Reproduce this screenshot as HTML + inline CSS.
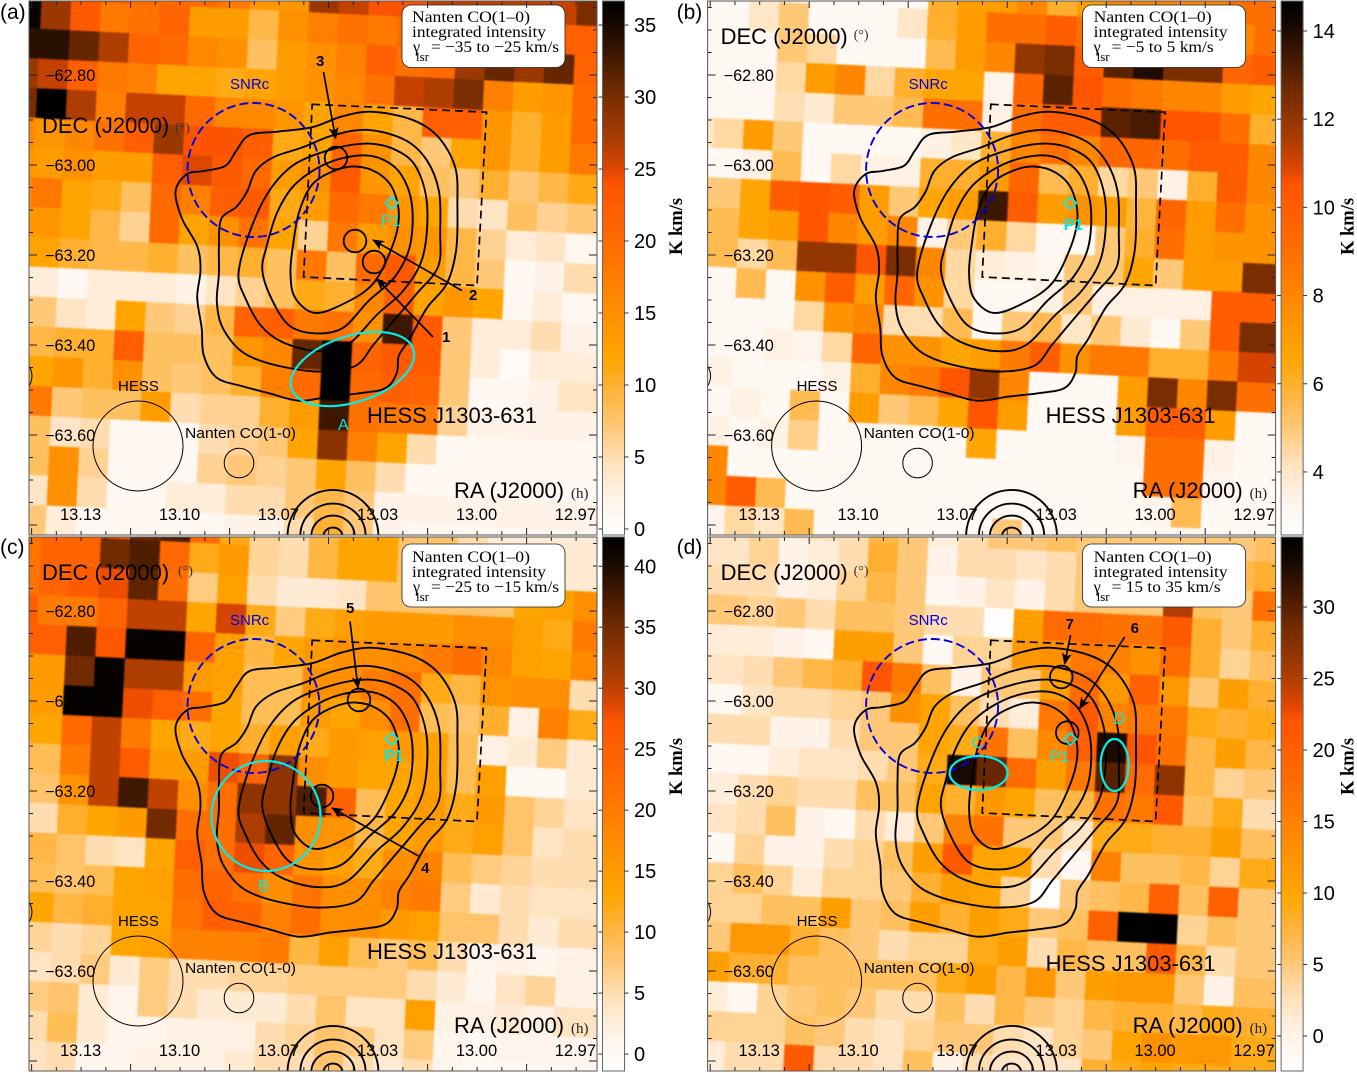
<!DOCTYPE html>
<html lang="en">
<head>
<meta charset="utf-8">
<title>Nanten CO(1-0) integrated intensity maps of HESS J1303-631</title>
<style>
html,body{margin:0;padding:0;background:#fff;}
svg{display:block;}
text{font-family:"Liberation Sans",sans-serif;fill:#000;}
.serif{font-family:"Liberation Serif",serif;}
.big{font-size:22px;}
.beam{font-size:15px;}
.cy{fill:#00e8e8;font-size:16px;}
.leg{font-family:"Liberation Serif",serif;font-size:16px;}
.num{font-size:15px;font-weight:bold;}
.cbl{font-family:"Liberation Serif",serif;font-weight:bold;font-size:18.5px;}
.ct{fill:none;stroke:#000;stroke-width:1.9;}
.arr{stroke:#000;stroke-width:1.7;marker-end:url(#arrow-head);}
.mk{fill:none;stroke:#000;stroke-width:1.8;}
.cyl{fill:none;stroke:#00eeee;stroke-width:2.2;}
.snr{fill:none;stroke:#0000e6;stroke-width:1.9;stroke-dasharray:9 4;}
.bm{fill:none;stroke:#000;stroke-width:1;}
.lb{fill:#fff;stroke:#222;stroke-width:.8;}
</style>
</head>
<body>
<svg id="figure" xmlns="http://www.w3.org/2000/svg" width="1357" height="1073" viewBox="0 0 1357 1073">
<defs>
<clipPath id="plot-clip"><rect x="29" y="1" width="568" height="534"/></clipPath>
<filter id="soften" x="-5%" y="-5%" width="110%" height="110%" color-interpolation-filters="sRGB"><feGaussianBlur stdDeviation="0.8"/></filter>
<marker id="arrow-head" markerUnits="userSpaceOnUse" markerWidth="12" markerHeight="10" refX="11" refY="5" orient="auto"><path d="M0 0L12 5L0 10L3 5Z" fill="#000"/></marker>
<linearGradient id="cbar-gradient" x1="0" y1="1" x2="0" y2="0">
<stop offset="0" stop-color="#ffffff"/><stop offset=".02" stop-color="#fffbf8"/><stop offset=".074" stop-color="#fff2e6"/><stop offset=".138" stop-color="#ffe0b8"/><stop offset=".2" stop-color="#ffc878"/><stop offset=".28" stop-color="#ffb030"/><stop offset=".33" stop-color="#ffa500"/><stop offset=".415" stop-color="#ff9000"/><stop offset=".49" stop-color="#ff7a00"/><stop offset=".55" stop-color="#ff6a00"/><stop offset=".655" stop-color="#ff5500"/><stop offset=".69" stop-color="#d94500"/><stop offset=".745" stop-color="#a83c00"/><stop offset=".82" stop-color="#7a2e00"/><stop offset=".905" stop-color="#3a1600"/><stop offset=".96" stop-color="#140700"/><stop offset="1" stop-color="#000"/>
</linearGradient>
</defs>

<!-- PANEL A -->
<g id="panel-a" transform="translate(0,0)">
<g clip-path="url(#plot-clip)"><g id="heat-a" filter="url(#soften)"></g></g>
<g id="over-a" clip-path="url(#plot-clip)"></g>
<ellipse class="snr" cx="253.5" cy="170" rx="66" ry="67"/>
<circle class="bm" cx="138" cy="446" r="45"/>
<circle class="bm" cx="239" cy="463" r="14.8"/>
<path class="bm" d="M29 366Q35 376 29 386"/>
<circle class="mk" cx="336" cy="158" r="11.3"/>
<circle class="mk" cx="355" cy="241" r="11.3"/>
<circle class="mk" cx="374" cy="262" r="11.3"/>
<line class="arr" x1="323.5" y1="72" x2="335.6" y2="138.5"/>
<line class="arr" x1="462" y1="290.6" x2="373" y2="240"/>
<line class="arr" x1="433" y1="337" x2="377" y2="279"/>
<ellipse class="cyl" cx="352.5" cy="369" rx="64" ry="33" transform="rotate(-18 352.5 369)"/>
<path class="cyl" style="stroke-width:1.8" d="M391.6 197L398 203L391.6 209L385.5 203Z"/>
<text class="cy" x="381" y="226">P1</text>
<text class="cy" x="338" y="430">A</text>
<text class="num" x="316" y="66">3</text>
<text class="num" x="469" y="300">2</text>
<text class="num" x="442" y="342">1</text>
<text style="fill:#0000e6" class="beam" x="230" y="89">SNRc</text>
<text class="beam" x="118" y="391">HESS</text>
<text class="beam" x="185" y="438" textLength="111" lengthAdjust="spacingAndGlyphs">Nanten CO(1-0)</text>
<text class="big" x="367" y="423">HESS J1303-631</text>
<text class="big" x="42" y="133">DEC (J2000)</text>
<text class="serif" x="175" y="132" font-size="14" style="fill:#333">(°)</text>
<text class="big" x="454" y="498">RA (J2000)</text>
<text class="serif" x="571" y="498" font-size="15" style="fill:#222">(h)</text>
<rect class="lb" x="402" y="5" width="163" height="62.5" rx="9"/>
<text class="leg" x="412" y="22" textLength="118" lengthAdjust="spacingAndGlyphs">Nanten CO(1–0)</text>
<text class="leg" x="412" y="37" textLength="134" lengthAdjust="spacingAndGlyphs">integrated intensity</text>
<text class="leg" x="413" y="52">γ</text>
<text class="leg" x="416" y="61" style="font-size:13px">lsr</text>
<text class="leg" x="431" y="52" textLength="128" lengthAdjust="spacingAndGlyphs">= −35 to −25 km/s</text>
<text x="0" y="19" font-size="21">(a)</text>
<text class="cbl" transform="translate(682,255) rotate(-90)">K km/s</text>
</g>

<!-- PANEL B -->
<g id="panel-b" transform="translate(678.6,0)">
<g clip-path="url(#plot-clip)"><g id="heat-b" filter="url(#soften)"></g></g>
<g id="over-b" clip-path="url(#plot-clip)"></g>
<ellipse class="snr" cx="253.5" cy="170" rx="66" ry="67"/>
<circle class="bm" cx="138" cy="446" r="45"/>
<circle class="bm" cx="239" cy="463" r="14.8"/>
<path class="bm" d="M29 366Q35 376 29 386"/>
<path class="cyl" style="stroke-width:1.8" d="M391.6 197L398 203L391.6 209L385.5 203Z"/>
<text class="cy" x="385" y="230" style="font-weight:bold">P1</text>
<text style="fill:#0000e6" class="beam" x="230" y="89">SNRc</text>
<text class="beam" x="118" y="391">HESS</text>
<text class="beam" x="185" y="438" textLength="111" lengthAdjust="spacingAndGlyphs">Nanten CO(1-0)</text>
<text class="big" x="367" y="423">HESS J1303-631</text>
<text class="big" x="42" y="44">DEC (J2000)</text>
<text class="serif" x="175" y="39" font-size="14" style="fill:#333">(°)</text>
<text class="big" x="454" y="498">RA (J2000)</text>
<text class="serif" x="571" y="498" font-size="15" style="fill:#222">(h)</text>
<rect class="lb" x="404" y="5" width="163" height="62.5" rx="9"/>
<text class="leg" x="415" y="22" textLength="118" lengthAdjust="spacingAndGlyphs">Nanten CO(1–0)</text>
<text class="leg" x="415" y="37" textLength="134" lengthAdjust="spacingAndGlyphs">integrated intensity</text>
<text class="leg" x="415" y="52">γ</text>
<text class="leg" x="418" y="61" style="font-size:13px">lsr</text>
<text class="leg" x="433" y="52" textLength="102" lengthAdjust="spacingAndGlyphs">= −5 to 5 km/s</text>
<text x="-2" y="19" font-size="21">(b)</text>
<text class="cbl" transform="translate(675,255) rotate(-90)">K km/s</text>
</g>

<!-- PANEL C -->
<g id="panel-c" transform="translate(0,536)">
<g clip-path="url(#plot-clip)"><g id="heat-c" filter="url(#soften)"></g></g>
<g id="over-c" clip-path="url(#plot-clip)"></g>
<ellipse class="snr" cx="253.5" cy="170" rx="66" ry="67"/>
<circle class="bm" cx="138" cy="445" r="45"/>
<circle class="bm" cx="239" cy="462" r="14.8"/>
<path class="bm" d="M29 366Q35 376 29 386"/>
<circle class="mk" cx="359" cy="164" r="11.3"/>
<circle class="mk" cx="322" cy="260" r="11.3"/>
<line class="arr" x1="350" y1="85.5" x2="358" y2="152"/>
<line class="arr" x1="418.5" y1="320" x2="332" y2="272"/>
<ellipse class="cyl" cx="266" cy="280" rx="54.5" ry="55"/>
<path class="cyl" style="stroke-width:1.8" d="M391.6 197L398 203L391.6 209L385.5 203Z"/>
<text class="cy" x="384" y="225" style="font-weight:bold">P1</text>
<text class="cy" x="258" y="355">B</text>
<text class="num" x="346" y="77">5</text>
<text class="num" x="421" y="337">4</text>
<text style="fill:#0000e6" class="beam" x="230" y="89">SNRc</text>
<text class="beam" x="118" y="390">HESS</text>
<text class="beam" x="185" y="437" textLength="111" lengthAdjust="spacingAndGlyphs">Nanten CO(1-0)</text>
<text class="big" x="367" y="423">HESS J1303-631</text>
<text class="big" x="42" y="44">DEC (J2000)</text>
<text class="serif" x="178" y="39" font-size="14" style="fill:#333">(°)</text>
<text class="big" x="454" y="497">RA (J2000)</text>
<text class="serif" x="571" y="497" font-size="15" style="fill:#222">(h)</text>
<rect class="lb" x="402" y="8" width="163" height="63" rx="9"/>
<text class="leg" x="412" y="26" textLength="118" lengthAdjust="spacingAndGlyphs">Nanten CO(1–0)</text>
<text class="leg" x="412" y="41" textLength="134" lengthAdjust="spacingAndGlyphs">integrated intensity</text>
<text class="leg" x="413" y="56">γ</text>
<text class="leg" x="416" y="65" style="font-size:13px">lsr</text>
<text class="leg" x="431" y="56" textLength="128" lengthAdjust="spacingAndGlyphs">= −25 to −15 km/s</text>
<text x="0" y="18" font-size="21">(c)</text>
<text class="cbl" transform="translate(682,259) rotate(-90)">K km/s</text>
</g>

<!-- PANEL D -->
<g id="panel-d" transform="translate(678.6,536)">
<g clip-path="url(#plot-clip)"><g id="heat-d" filter="url(#soften)"></g></g>
<g id="over-d" clip-path="url(#plot-clip)"></g>
<ellipse class="snr" cx="253.5" cy="170" rx="66" ry="67"/>
<circle class="bm" cx="138" cy="445" r="45"/>
<circle class="bm" cx="239" cy="462" r="14.8"/>
<path class="bm" d="M29 366Q35 376 29 386"/>
<circle class="mk" cx="382.7" cy="141" r="11.3"/>
<circle class="mk" cx="388.7" cy="196.6" r="11.3"/>
<line class="arr" x1="392" y1="99" x2="386" y2="128"/>
<line class="arr" x1="446" y1="101" x2="401" y2="172.6"/>
<ellipse class="cyl" cx="300" cy="237" rx="29" ry="17"/>
<ellipse class="cyl" cx="436" cy="229" rx="14" ry="26"/>
<path class="cyl" style="stroke-width:1.8" d="M391.6 197L398 203L391.6 209L385.5 203Z"/>
<text class="cy" x="371" y="226">P1</text>
<text class="cy" x="293" y="212">C</text>
<text class="cy" x="435" y="188">D</text>
<text class="num" x="387" y="93">7</text>
<text class="num" x="452" y="97">6</text>
<text style="fill:#0000e6" class="beam" x="230" y="89">SNRc</text>
<text class="beam" x="118" y="390">HESS</text>
<text class="beam" x="185" y="437" textLength="111" lengthAdjust="spacingAndGlyphs">Nanten CO(1-0)</text>
<text class="big" x="367" y="435">HESS J1303-631</text>
<text class="big" x="42" y="44">DEC (J2000)</text>
<text class="serif" x="175" y="39" font-size="14" style="fill:#333">(°)</text>
<text class="big" x="454" y="497">RA (J2000)</text>
<text class="serif" x="571" y="497" font-size="15" style="fill:#222">(h)</text>
<rect class="lb" x="404" y="8" width="163" height="63" rx="9"/>
<text class="leg" x="415" y="26" textLength="118" lengthAdjust="spacingAndGlyphs">Nanten CO(1–0)</text>
<text class="leg" x="415" y="41" textLength="134" lengthAdjust="spacingAndGlyphs">integrated intensity</text>
<text class="leg" x="415" y="56">γ</text>
<text class="leg" x="418" y="65" style="font-size:13px">lsr</text>
<text class="leg" x="433" y="56" textLength="109" lengthAdjust="spacingAndGlyphs">= 15 to 35 km/s</text>
<text x="-2" y="18" font-size="21">(d)</text>
<text class="cbl" transform="translate(675,259) rotate(-90)">K km/s</text>
</g>
</svg>

<script>
/* Axis tick values and labels */
const decTicks = [-62.8, -63.0, -63.2, -63.4, -63.6];
const decLabels = ['−62.80', '−63.00', '−63.20', '−63.40', '−63.60'];
const raTicks = [13.1333, 13.1, 13.0667, 13.0333, 13.0, 12.9667];
const raLabels = ['13.13', '13.10', '13.07', '13.03', '13.00', '12.97'];

/* Colour bar ticks (K km/s) */
const colorbarTicksA = [0, 5, 10, 15, 20, 25, 30, 35];
const colorbarTicksB = [4, 6, 8, 10, 12, 14];
const colorbarTicksC = [0, 5, 10, 15, 20, 25, 30, 35, 40];
const colorbarTicksD = [0, 5, 10, 15, 20, 25, 30];
const colorbarRangeA = [-0.42, 36.67];
const colorbarRangeB = [2.57, 14.68];
const colorbarRangeC = [-1.39, 42.4];
const colorbarRangeD = [-2.45, 34.9];

/* Integrated intensity maps: K km/s, one row per declination pixel */
const intensityA = [
[30,30,26,24,20,20,20,18,14,14,28,26,24,24,26,26,26,26,26,30,30],
[36,28,23,18,19,21,13,13,9,15,17,19,18,20,22,22,22,22,22,22,22],
[34,34,31,27,21,20,16,15,8,13,15,17,22,19,20,28,31,28,31,21,21],
[28,26,22,18,17,12,12,11,12,13,15,16,19,26,27,30,17,13,14,20,20],
[30,37,27,17,26,26,20,16,16,14,12,16,12,9,22,22,14,10,13,20,20],
[16,14,16,19,22,28,24,24,22,11,12,21,15,9,7,12,14,10,13,18,18],
[14,13,15,13,13,22,25,23,20,13,15,23,14,12,8,7,10,7,9,11,11],
[16,18,12,11,8,20,17,22,23,11,13,20,18,14,12,5,4,8,6,7,7],
[14,14,12,9,6,20,12,15,19,12,6,18,13,15,14,9,6,3,4,1.5,2],
[12,12,10,9,9,10,8,9,10,8,18,8,20,23,13,9,7,1,2,5,5],
[3,3,1,3,3,3,2,4,6,8,11,10,16,22,12,14,12,1,3,1,1],
[7,7,4,3,12,7,6,9,21,22,18,19,15,33,23,7,3,3,5,2,2],
[9,9,10,10,22,8,8,8,14,16,31,37,21,23,23,7,3,0.5,3,3,3],
[12,12,14,10,15,8,7,8,10,17,20,37,20,22,21,7,1,1,2,4,4],
[18,18,7,8,8,13,5,6,6,10,13,33,19,18,18,6,2,2,2,2,2],
[8,8,4,5,1,1,1,5,6,7,12,29,17,12,5,1,1,1,1,1,1],
[8,8,15,6,1,1,1,6,7,6,7,12,8,5,1,1,1,1,1,1,1],
[4,4,15,5,1,1,3,3,5,5,7,9,7,2,2,2,2,2,2,2,2],
[7,7,3,1,1,1,1,1,2,2,5,10,7,2,1,1,1,1,1,1,1]
];
const intensityB = [
[3,3,3,3,3,3,3,3,6,7,7,8,6,7,8,8,8,8,9,9,9],
[3,3,4,5,3,3,3,4,6,7,9,9,10,9,9,9,9,9,8,9,9],
[3,3,3,5,4.5,3,3,3,5.5,7,8,12,12.5,10,13,14,12.5,12.5,9.5,10,10],
[3,3,3,4.5,7,8,4.5,6,6.5,6.5,3.3,9.5,13,10.5,9,8.5,8,8,7,6.5,6.5],
[3,3,3,4.3,3.8,5,5,5.5,9,9,3.5,9,10,10,13,13.3,10.5,10.5,9,6,6],
[4,4.5,7,5,3,3,3,3,3.5,4,6,8,9,8,9.5,9.5,9,10,10,8,8],
[3,3,3.5,5.5,3,4.5,3.5,3.5,6,6,7,9.5,5.5,6,4.5,5,3.5,6,10,8,8],
[5,5,6.5,10,10.5,10,7,5,6.5,7,13.5,10,7,7.5,7,5.8,9.5,7,9,7.5,7.5],
[5.5,5.5,6.5,7,10.5,8,7,8,3.5,5,6,4.5,3,3,5,6,9,7,7.5,7.5,7.5],
[5.5,5.5,4.5,5.5,12,12,10.5,12.5,8,4.5,3.7,3.5,3.2,5,5,6.5,5,7,7,12.5,12.5],
[3,3,5.5,3,7.5,10,7,9.5,7.5,4.5,3,3,3.5,5,3.5,3.5,3.5,3.5,10,10,10],
[3,3,3,3,4.5,7.5,8,4.3,4.3,5.5,3,5,5.5,4,5,3.8,3,5,10,12.5,12.5],
[3,3,3,3.5,3.3,4.5,9.5,7.5,7.5,6.5,7,8.5,10,7.5,8.5,8.5,6,6,8.5,11,11],
[3.5,3.5,3,3,3,3.5,6,8,8.5,10.5,12,8,3,3,3,7,12.5,8,12.5,9,9],
[3,3,3.5,3,5.5,3,7,5,5.5,6.5,10.5,7,3,3,3,7,10,10,7,3,3],
[3.5,3.5,3,3.5,4.8,3,3,3,3,3,6.5,3,3,3,3,3.3,9,9,3.5,3,3],
[8,8,3,3,3,3,3,3,3,3,3,3,3,3,3,3,9,9,3.3,3,3],
[8,8,10,5.5,3,3,3,3,3,3,3,3,3,3,3,3,3.3,5.5,3,3,3],
[3.3,3.3,4.5,4,5.5,3,3,3,3,3,3,5,3,3,3,3,3,3,3,3,3]
];
const intensityC = [
[21,21,24,24,35,37,23,12,6,5,10,13,13,8,8,5,3,3,3,3,3],
[21,24,24,35,37,23,12,15,6,5,10,13,13,8,8,8,5,4,3,3,3],
[21,24,26,28,36,22,7,14,5,3,3,4,8,8,8,8,8,13,14,17,17],
[25,20,20,24,30,30,13,29,12,7,12,14,15,15,15,17,17,14,12,20,20],
[25,25,37,27,42,42,24,14,10,13,15,17,17,18,20,22,18,14,13,18,18],
[15,15,35,42,31,31,15,14,9,9,17,17,20,22,12,10,16,17,17,5,5],
[15,15,42,42,28,25,22,13,9,9,15,13,17,22,9,8,11,2,19,12,12],
[13,13,23,30,20,13,12,13,11,14,12,15,14,15,14,9,2,3,7,3,3],
[9,9,20,30,26,15,15,28,24,33,17,15,13,13,14,9,14,0,0,3,3],
[8,8,16,30,38,30,17,22,33,33,37,24,9,13,15,12,15,8,6,4,4],
[5,5,11,13,15,35,22,22,31,36,17,16,10,13,15,12,14,8,4,5,5],
[10,10,8,5,4,13,25,22,28,24,16,14,12,17,19,9,7,6,5,5,5],
[9,9,8,9,13,14,22,24,21,17,21,17,17,19,20,7,3,5,4,4,4],
[13,13,10,11,13,13,21,25,24,19,22,17,17,15,14,8,8,5,3,5,5],
[6,6,5,6,13,14,19,19,19,20,10,14,9,7,9,5,1,2,1,2,2],
[4,4,5,7,3,7,5,5,6,6,7,7,7,7,5,3,1,4,6,2,2],
[7,7,8,3,1,7,5,3,3,3,5,8,4,4,14,2,2,3,2,4,4],
[5,5,9,3,1,1,2,2,2,5,6,8,7,4,7,1,0,1,1,1,1],
[4,4,5,1,1,2,2,2,3,5,5,8,5,3,5,1,0,0,0,0,0]
];
const intensityD = [
[2,2,3,2,3,3,7,5,1,3,5,5,6,5,5,5,5,5,5,6,7],
[2,2,4,0,1,3,8,5,0,3,3,2,3,5,5,5,5,5,7,8,8],
[3,3,3,0,1,4,7,5,-1,0,2,0,3,5,5,5,25,6,5,17,17],
[5,5,4,5,3,6,6,5,3,3,-2,11,18,18,17,17,21,8,5,8,8],
[1,1,1,0,-1,11,11,5,-1,4,4,12,13,16,15,13,18,8,4,6,6],
[2,2,3,5,7,8,22,16,6,0,5,5,11,18,12,20,12,5,11,8,8],
[-1,-1,2,3,3,4,5,13,10,6,3,1,16,21,15,16,16,9,8,9,9],
[3,3,3,0,0,3,5,5,10,9,17,6,14,20,33,22,17,7,11,7,7],
[-1,-1,-1,1,2,2,3,5,9,33,29,18,11,16,30,18,27,7,4,5,5],
[1,1,3,4,3,3,6,6,10,8,12,10,6,7,17,16,21,6,9,3,3],
[2,2,3,6,0,-1,3,1,5,15,17,5,5,2,9,9,8,8,11,6,6],
[-1,-1,4,0,0,3,4,6,11,21,10,10,3,-1,15,6,6,7,4,9,9],
[4,4,6,4,1,4,4,5,8,11,10,4,-2,5,6,7,20,6,20,5,5],
[4,4,4,6,6,11,5,6,11,8,11,9,5,6,20,35,35,4,6,5,5],
[5,5,12,12,8,6,5,3,4,4,9,11,3,7,6,6,21,7,3,5,5],
[11,11,8,8,6,6,6,6,6,9,11,7,12,5,11,12,12,5,0,6,6],
[1,1,-1,4,5,6,5,3,3,6,3,7,5,4,7,8,8,7,9,8,8],
[4,4,4,4,6,5,3,2,4,5,5,3,2,4,5,10,13,12,12,9,9],
[1,1,3,3,21,3,3,2,6,0,3,2,2,2,8,9,10,9,9,9,9]
];

/* HESS significance contours: [RA hours, Dec degrees] */
const contourLevel1 = [[13.0978,-63.0208],[13.1015,-63.0588],[13.0993,-63.1196],[13.0942,-63.1804],[13.0931,-63.2336],[13.0942,-63.2943],[13.0927,-63.3627],[13.0920,-63.4235],[13.0876,-63.4729],[13.0788,-63.4919],[13.0701,-63.5071],[13.0599,-63.5238],[13.0496,-63.5147],[13.0394,-63.5071],[13.0307,-63.4957],[13.0270,-63.4615],[13.0263,-63.4235],[13.0226,-63.3855],[13.0168,-63.3171],[13.0102,-63.2640],[13.0070,-63.1880],[13.0066,-63.0892],[13.0073,-63.0057],[13.0131,-62.9373],[13.0219,-62.8993],[13.0350,-62.8818],[13.0453,-62.8917],[13.0555,-62.9160],[13.0672,-62.9259],[13.0766,-62.9335],[13.0810,-62.9677],[13.0847,-63.0018],[13.0920,-63.0133]];
const contourLevel2 = [[13.0861,-63.1196],[13.0869,-63.1804],[13.0869,-63.2412],[13.0876,-63.3019],[13.0861,-63.3551],[13.0810,-63.4045],[13.0745,-63.4311],[13.0642,-63.4501],[13.0526,-63.4592],[13.0409,-63.4463],[13.0350,-63.4007],[13.0292,-63.3551],[13.0204,-63.2867],[13.0131,-63.2260],[13.0124,-63.1500],[13.0128,-63.0588],[13.0168,-62.9905],[13.0241,-62.9449],[13.0365,-62.9221],[13.0482,-62.9335],[13.0584,-62.9601],[13.0686,-62.9829],[13.0745,-63.0133],[13.0774,-63.0588],[13.0810,-63.0930]];
const contourLevel3 = [[13.0803,-63.2412],[13.0781,-63.2943],[13.0730,-63.3551],[13.0657,-63.3931],[13.0540,-63.4136],[13.0438,-63.4007],[13.0336,-63.3323],[13.0248,-63.2792],[13.0182,-63.2032],[13.0168,-63.0892],[13.0204,-63.0057],[13.0270,-62.9677],[13.0365,-62.9525],[13.0482,-62.9639],[13.0613,-62.9981],[13.0701,-63.0588],[13.0766,-63.1500]];
const contourLevel4 = [[13.0723,-63.2336],[13.0694,-63.2943],[13.0635,-63.3551],[13.0548,-63.3741],[13.0453,-63.3627],[13.0365,-63.3019],[13.0277,-63.2488],[13.0226,-63.1804],[13.0219,-63.0892],[13.0256,-63.0208],[13.0321,-62.9867],[13.0401,-62.9791],[13.0511,-62.9981],[13.0613,-63.0436],[13.0672,-63.1044],[13.0708,-63.1804]];
const contourLevel5 = [[13.0628,-63.2412],[13.0613,-63.2943],[13.0548,-63.3285],[13.0453,-63.3095],[13.0350,-63.2640],[13.0285,-63.1804],[13.0263,-63.1120],[13.0285,-63.0512],[13.0336,-63.0171],[13.0409,-63.0034],[13.0482,-63.0133],[13.0555,-63.0436],[13.0599,-63.1044],[13.0620,-63.1804]];

/* Neighbouring source at the lower edge: half-widths in hours and degrees */
const southSourceCentre = [13.0485, -63.8246];
const southSourceRaRadii = [0.0153, 0.0110, 0.0073, 0.0032];
const southSourceDecRadii = [0.1026, 0.0722, 0.0456, 0.0190];

/* Candidate region box corners [RA, Dec] */
const regionBox = [[13.0555,-62.8651],[12.9968,-62.8826],[13.0000,-63.2677],[13.0584,-63.2488]];

const SVGNS = 'http://www.w3.org/2000/svg';
function xOf(ra) { return 477 + (13 - ra) * 2970; }
function yOf(dec) { return 165 + (-63 - dec) * 450; }

const colorStops = [[0,255,255,255],[.02,255,251,248],[.074,255,242,230],[.138,255,224,184],[.2,255,200,120],[.28,255,176,48],[.33,255,165,0],[.415,255,144,0],[.49,255,122,0],[.55,255,106,0],[.655,255,85,0],[.69,217,69,0],[.745,168,60,0],[.82,122,46,0],[.905,58,22,0],[.96,20,7,0],[1,0,0,0]];
function colorOf(value, range) {
  const f = Math.max(0, Math.min(1, (value - range[0]) / (range[1] - range[0])));
  for (let k = 1; k < colorStops.length; k++) {
    if (f <= colorStops[k][0]) {
      const a = colorStops[k - 1], b = colorStops[k];
      const t = (f - a[0]) / (b[0] - a[0]);
      return 'rgb(' + [1, 2, 3].map(c => Math.round(a[c] + (b[c] - a[c]) * t)).join(',') + ')';
    }
  }
  return '#000';
}
function cornerOf(col, row) {
  return (12.15 + 29.7 * col - 1.45 * row).toFixed(2) + ',' + (-2.05 + 1.45 * col + 29.7 * row).toFixed(2);
}
function drawHeat(group, grid, range) {
  grid.forEach(function (rowValues, r) {
    const row = r - 1;
    rowValues.forEach(function (value, col) {
      const el = document.createElementNS(SVGNS, 'polygon');
      
      
      el.setAttribute('points', [cornerOf(col, row), cornerOf(col + 1, row), cornerOf(col + 1, row + 1), cornerOf(col, row + 1)].join(' '));
      const fill = colorOf(value, range);
      el.setAttribute('fill', fill);
      el.setAttribute('stroke', fill);
      el.setAttribute('stroke-width', '0.6');
      group.appendChild(el);
    });
  });
}
function smoothClosed(points) {
  const p = points.map(q => [xOf(q[0]), yOf(q[1])]);
  const n = p.length;
  let d = 'M' + p[0][0].toFixed(1) + ' ' + p[0][1].toFixed(1);
  for (let k = 0; k < n; k++) {
    const a = p[(k - 1 + n) % n], b = p[k], c = p[(k + 1) % n], e = p[(k + 2) % n];
    d += 'C' + (b[0] + (c[0] - a[0]) / 6).toFixed(1) + ' ' + (b[1] + (c[1] - a[1]) / 6).toFixed(1) + ' ' +
      (c[0] - (e[0] - b[0]) / 6).toFixed(1) + ' ' + (c[1] - (e[1] - b[1]) / 6).toFixed(1) + ' ' +
      c[0].toFixed(1) + ' ' + c[1].toFixed(1);
  }
  return d + 'Z';
}
function drawOverlay(group) {
  [contourLevel1, contourLevel2, contourLevel3, contourLevel4, contourLevel5].forEach(function (level) {
    const el = document.createElementNS(SVGNS, 'path');
    
    
    el.setAttribute('class', 'ct');
    el.setAttribute('d', smoothClosed(level));
    group.appendChild(el);
  });
  southSourceRaRadii.forEach(function (raRadius, k) {
    const el = document.createElementNS(SVGNS, 'ellipse');
    
    
    el.setAttribute('class', 'ct');
    el.setAttribute('cx', xOf(southSourceCentre[0]));
    el.setAttribute('cy', yOf(southSourceCentre[1]));
    el.setAttribute('rx', raRadius * 2970);
    el.setAttribute('ry', southSourceDecRadii[k] * 450);
    group.appendChild(el);
  });
  const box = document.createElementNS(SVGNS, 'polygon');
  
  
  box.setAttribute('points', regionBox.map(q => xOf(q[0]).toFixed(1) + ',' + yOf(q[1]).toFixed(1)).join(' '));
  box.setAttribute('fill', 'none');
  box.setAttribute('stroke', '#000');
  box.setAttribute('stroke-width', '1.7');
  box.setAttribute('stroke-dasharray', '8 5');
  group.appendChild(box);
}
function addLine(parent, x1, y1, x2, y2, color, name) {
  const el = document.createElementNS(SVGNS, 'line');
  
  
  el.setAttribute('x1', x1); el.setAttribute('y1', y1);
  el.setAttribute('x2', x2); el.setAttribute('y2', y2);
  el.setAttribute('stroke', color);
  el.setAttribute('stroke-width', '1');
  parent.appendChild(el);
}
function addText(parent, x, y, str, size, anchor, name) {
  const el = document.createElementNS(SVGNS, 'text');
  
  
  el.setAttribute('x', x); el.setAttribute('y', y);
  el.setAttribute('font-size', size);
  el.setAttribute('text-anchor', anchor);
  el.textContent = str;
  parent.appendChild(el);
}
function drawAxes(panel, bottom) {
  for (let k = 0; k <= 24; k++) {
    const ra = 13.1583 - k / 120;
    const x = xOf(ra);
    if (x < 29 || x > 597) continue;
    const len = (k % 4 === 1) ? 7 : 4;
    addLine(panel, x, 1, x, 1 + len, '#222', 'ra-tick-top');
    addLine(panel, x, bottom, x, bottom - len, '#222', 'ra-tick-bottom');
  }
  for (let k = 0; k <= 24; k++) {
    const dec = -62.65 - k * 0.05;
    const y = yOf(dec);
    if (y < 1 || y > bottom) continue;
    const len = (k % 4 === 3) ? 8 : 4;
    addLine(panel, 29, y, 29 + len, y, '#222', 'dec-tick-left');
    addLine(panel, 597, y, 597 - len, y, '#222', 'dec-tick-right');
  }
  decTicks.forEach(function (dec, k) {
    addText(panel, 45, yOf(dec) + 6, decLabels[k], 16.3, 'start', 'dec-tick-label');
  });
  raTicks.forEach(function (ra, k) {
    addText(panel, xOf(ra) - 0.5, bottom - 15, raLabels[k], 16.5, 'middle', 'ra-tick-label');
  });
  const frame = document.createElementNS(SVGNS, 'rect');
  
  
  frame.setAttribute('x', 29); frame.setAttribute('y', 1);
  frame.setAttribute('width', 568); frame.setAttribute('height', bottom - 1);
  frame.setAttribute('fill', 'none');
  frame.setAttribute('stroke', '#555');
  frame.setAttribute('stroke-width', '1');
  panel.appendChild(frame);
}
function drawColorbar(panel, range, ticks, bottom) {
  const bar = document.createElementNS(SVGNS, 'rect');
  
  
  bar.setAttribute('x', 602.5); bar.setAttribute('y', 1);
  bar.setAttribute('width', 22); bar.setAttribute('height', bottom - 1);
  bar.setAttribute('fill', 'url(#cbar-gradient)');
  bar.setAttribute('stroke', '#666');
  bar.setAttribute('stroke-width', '1');
  panel.appendChild(bar);
  ticks.forEach(function (value) {
    const y = bottom - (value - range[0]) / (range[1] - range[0]) * (bottom - 1);
    addLine(panel, 624.5, y, 628.5, y, '#333', 'colorbar-tick');
    addLine(panel, 598.5, y, 602.5, y, '#333', 'colorbar-tick');
    addText(panel, 634, y + 7, String(value), 20, 'start', 'colorbar-label');
  });
}
const panelKeys = ['a', 'b', 'c', 'd'];
const panelGrids = [intensityA, intensityB, intensityC, intensityD];
const panelRanges = [colorbarRangeA, colorbarRangeB, colorbarRangeC, colorbarRangeD];
const panelTicks = [colorbarTicksA, colorbarTicksB, colorbarTicksC, colorbarTicksD];
panelKeys.forEach(function (key, idx) {
  const panel = document.getElementById('panel-' + key);
  drawHeat(document.getElementById('heat-' + key), panelGrids[idx], panelRanges[idx]);
  drawOverlay(document.getElementById('over-' + key));
  drawAxes(panel, 535);
  drawColorbar(panel, panelRanges[idx], panelTicks[idx], 535);
});
</script>
</body>
</html>
